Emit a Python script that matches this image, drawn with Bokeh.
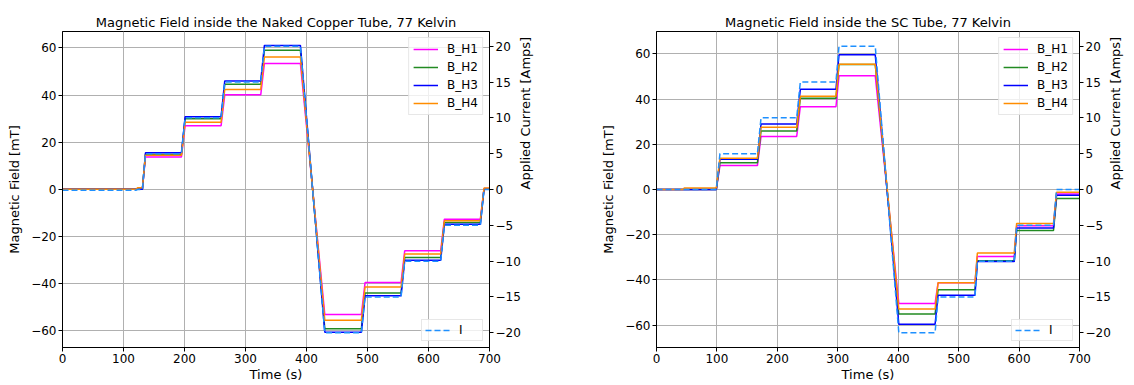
import math
from bokeh.plotting import figure
from bokeh.models import (Range1d, LinearAxis, FixedTicker, Legend, LegendItem,
                          CustomJSTickFormatter)
from bokeh.layouts import row
from bokeh.embed import file_html
from bokeh.resources import INLINE

# ---------------- data: Naked Copper Tube ----------------
cu_t_start = [0, 123, 136, 201, 266, 331, 430, 496, 561, 626, 691]
cu_t_end = [121, 131, 195, 260, 325, 390, 490, 555, 620, 685, 700]
cu_bh1 = [0.0, 0.0, 13.7, 27.0, 40.1, 53.4, -53.2, -39.6, -26.1, -12.7, 0.3]
cu_bh2 = [0.0, 0.0, 14.8, 29.9, 44.6, 59.0, -59.2, -44.1, -29.0, -14.1, 0.0]
cu_bh3 = [0.0, 0.0, 15.5, 30.8, 46.0, 61.1, -60.7, -45.2, -30.1, -14.9, 0.0]
cu_bh4 = [0.0, 0.6, 14.4, 28.5, 42.4, 56.2, -55.6, -41.5, -27.5, -13.4, 0.5]
cu_current = [-0.1, 0, 5, 10, 15, 20, -20, -15, -10, -5, 0]

# ---------------- data: SC Tube ----------------
sc_t_start = [0, 46, 105, 173, 238, 302, 401, 466, 531, 596, 662]
sc_t_end = [44, 99, 167, 232, 297, 362, 461, 527, 592, 657, 700]
sc_bh1 = [0.0, 0.0, 10.6, 23.5, 36.6, 50.3, -50.4, -41.3, -29.6, -16.0, -2.0]
sc_bh2 = [0.0, 0.0, 11.8, 25.9, 40.4, 55.3, -55.1, -44.4, -31.5, -18.1, -4.0]
sc_bh3 = [0.0, 0.0, 13.4, 29.0, 44.3, 59.6, -59.6, -46.8, -31.9, -17.0, -2.5]
sc_bh4 = [0.0, 0.7, 13.8, 27.5, 41.2, 55.4, -52.9, -41.2, -28.1, -15.0, -1.2]
sc_current = [0, 0, 5, 10, 15, 20, -20, -15, -10, -5, 0]

x_ticks = [0, 100, 200, 300, 400, 500, 600, 700]
b_ticks = [-60, -40, -20, 0, 20, 40, 60]
i_ticks = [-20, -15, -10, -5, 0, 5, 10, 15, 20]
series_names = ["B_H1", "B_H2", "B_H3", "B_H4"]
series_colors = ["#ff00ff", "#228b22", "#0000ff", "#ff8c00"]
current_color = "#1e90ff"

FONT = "DejaVu Sans"
FS_TICK = "12px"
FS_LABEL = "13px"

MINUS_FMT = "return (tick < 0 ? '\u2212' + Math.abs(tick) : '' + tick);"


def steps(t_start, t_end, vals):
    xs, ys = [], []
    for a, b, v in zip(t_start, t_end, vals):
        xs += [a, b]
        ys += [v, v]
    return xs, ys


def style_axis(ax, ticks, label_standoff):
    ax.ticker = FixedTicker(ticks=ticks)
    ax.formatter = CustomJSTickFormatter(code=MINUS_FMT)
    ax.axis_line_color = "black"
    ax.major_tick_line_color = "black"
    ax.major_tick_in = 0
    ax.major_tick_out = 4
    ax.minor_tick_line_color = None
    ax.major_label_text_font = FONT
    ax.major_label_text_font_size = FS_TICK
    ax.major_label_text_color = "black"
    ax.major_label_standoff = 2
    ax.axis_label_text_font = FONT
    ax.axis_label_text_font_size = FS_LABEL
    ax.axis_label_text_font_style = "normal"
    ax.axis_label_text_color = "black"
    ax.axis_label_standoff = label_standoff


def make_plot(title, t_start, t_end, bseries, current, b_range, width, border_left, border_right):
    p = figure(width=width, height=384, output_backend="svg", toolbar_location=None,
               x_range=Range1d(0, 700), y_range=Range1d(*b_range),
               min_border_left=border_left, min_border_right=border_right,
               min_border_top=31, min_border_bottom=37)
    p.title.text = title
    p.title.align = "center"
    p.title.text_font = FONT
    p.title.text_font_size = "13px"
    p.title.text_font_style = "normal"
    p.title.text_color = "black"
    p.title.standoff = 4
    p.outline_line_color = "black"
    p.outline_line_width = 1
    p.outline_line_alpha = 1
    p.background_fill_color = "white"
    p.border_fill_color = "white"

    p.extra_y_ranges = {"I": Range1d(-22.05, 22.05)}

    style_axis(p.xaxis[0], x_ticks, 1)
    p.xaxis[0].axis_label = "Time (s)"
    style_axis(p.yaxis[0], b_ticks, 6)
    p.yaxis[0].axis_label = "Magnetic Field [mT]"

    rax = LinearAxis(y_range_name="I", axis_label="Applied Current [Amps]")
    style_axis(rax, i_ticks, 2)
    rax.axis_label_orientation = math.pi / 2
    p.add_layout(rax, "right")

    for g in (p.xgrid[0], p.ygrid[0]):
        g.ticker = FixedTicker(ticks=x_ticks if g is p.xgrid[0] else b_ticks)
        g.grid_line_color = "#b0b0b0"
        g.grid_line_width = 1

    renderers = []
    for vals, col in zip(bseries, series_colors):
        xs, ys = steps(t_start, t_end, vals)
        renderers.append(p.line(xs, ys, line_color=col, line_width=1.5))
    xs, ys = steps(t_start, t_end, current)
    r_i = p.line(xs, ys, line_color=current_color, line_width=1.5, line_dash="6 3",
                 y_range_name="I")

    def mk_legend(items, loc, pad):
        lg = Legend(items=items, location=loc)
        lg.label_text_font = FONT
        lg.label_text_font_size = FS_TICK
        lg.label_text_color = "black"
        lg.glyph_width = 25
        lg.glyph_height = 14
        lg.label_height = 14
        lg.label_standoff = 9
        lg.spacing = 4
        lg.padding = pad
        lg.margin = 6
        lg.border_line_color = "#d0d0d0"
        lg.border_line_width = 1
        lg.background_fill_color = "white"
        lg.background_fill_alpha = 0.8
        return lg

    leg_b = mk_legend([LegendItem(label=n, renderers=[r]) for n, r in zip(series_names, renderers)],
                      "top_right", 4)
    leg_i = mk_legend([LegendItem(label="I", renderers=[r_i])], "bottom_right", 3)
    p.add_layout(leg_b)
    p.add_layout(leg_i)
    return p


p1 = make_plot("Magnetic Field inside the Naked Copper Tube, 77 Kelvin",
               cu_t_start, cu_t_end, [cu_bh1, cu_bh2, cu_bh3, cu_bh4], cu_current,
               (-67.2, 67.0), 548, 62, 59)
p2 = make_plot("Magnetic Field inside the SC Tube, 77 Kelvin",
               sc_t_start, sc_t_end, [sc_bh1, sc_bh2, sc_bh3, sc_bh4], sc_current,
               (-69.9, 69.9), 585, 108, 51)

layout = row(p1, p2)
open("out.html", "w").write(file_html(layout, INLINE))
